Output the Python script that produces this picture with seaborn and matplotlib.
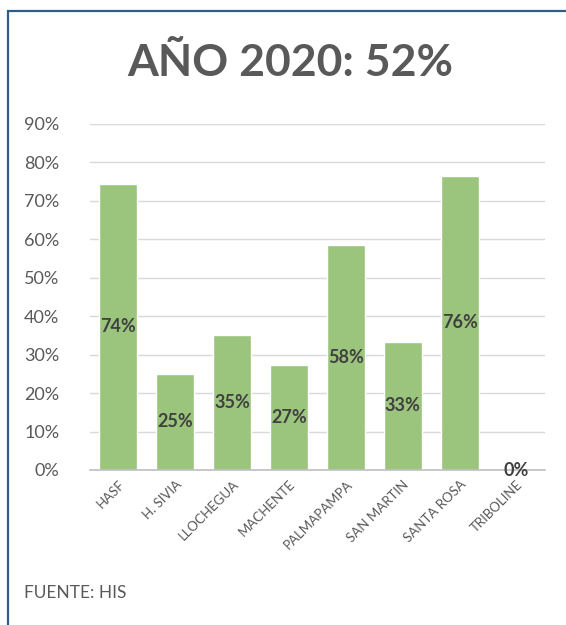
import matplotlib
matplotlib.use('Agg')
import matplotlib.pyplot as plt
import matplotlib.patches as mpatches
from matplotlib.ticker import PercentFormatter
import seaborn as sns
import pandas as pd

# Datos del gráfico
establecimientos = ['HASF', 'H. SIVIA', 'LLOCHEGUA', 'MACHENTE',
                    'PALMAPAMPA', 'SAN MARTIN', 'SANTA ROSA', 'TRIBOLINE']
avance = [0.745, 0.25, 0.352, 0.272, 0.585, 0.333, 0.765, 0.0]
etiquetas = ['74%', '25%', '35%', '27%', '58%', '33%', '76%', '0%']
titulo = 'AÑO 2020: 52%'
fuente = 'FUENTE: HIS'

df = pd.DataFrame({'Establecimiento': establecimientos, 'Avance': avance})

sns.set_style('white')
plt.rcParams['font.family'] = ['Lato', 'DejaVu Sans']

fig = plt.figure(figsize=(5.66, 6.25), dpi=100)
ax = fig.add_axes([0.159, 0.248, 0.804, 0.5536])

sns.barplot(x='Establecimiento', y='Avance', data=df, color='#9BC47C',
            saturation=1, width=0.67, ax=ax)

ax.set_ylim(0, 0.9)
ax.set_yticks([i / 10 for i in range(10)])
ax.yaxis.set_major_formatter(PercentFormatter(1.0, decimals=0))
ax.grid(axis='y', color='#D9D9D9', linewidth=1)
ax.set_axisbelow(True)
for s in ['top', 'right', 'left']:
    ax.spines[s].set_visible(False)
ax.spines['bottom'].set_color('#BFBFBF')
ax.spines['bottom'].set_linewidth(1.2)
ax.set_xlabel('')
ax.set_ylabel('')
ax.tick_params(axis='y', labelsize=13, colors='#595959', length=0, pad=22)
ax.tick_params(axis='x', labelsize=9.5, colors='#595959', length=0, pad=6)
plt.setp(ax.get_xticklabels(), rotation=45, ha='right',
         rotation_mode='anchor')

# Etiquetas de datos al centro de cada barra
for i, (v, t) in enumerate(zip(avance, etiquetas)):
    ax.text(i, v / 2, t, ha='center', va='center', fontsize=13,
            fontweight='bold', color='#404040')

fig.text(0.512, 0.900, titulo, ha='center', va='center', fontsize=32,
         fontweight='bold', color='#595959')
fig.text(0.042, 0.051, fuente, ha='left', va='center', fontsize=12.5,
         color='#595959')

# Marco del gráfico
fig.patches.append(mpatches.Rectangle((8 / 566, -0.05), 1.05, 1.05 - 11 / 625,
                                      transform=fig.transFigure,
                                      fill=False, edgecolor='#2F5D8A',
                                      linewidth=1.6))

fig.savefig('out.png', dpi=100)
